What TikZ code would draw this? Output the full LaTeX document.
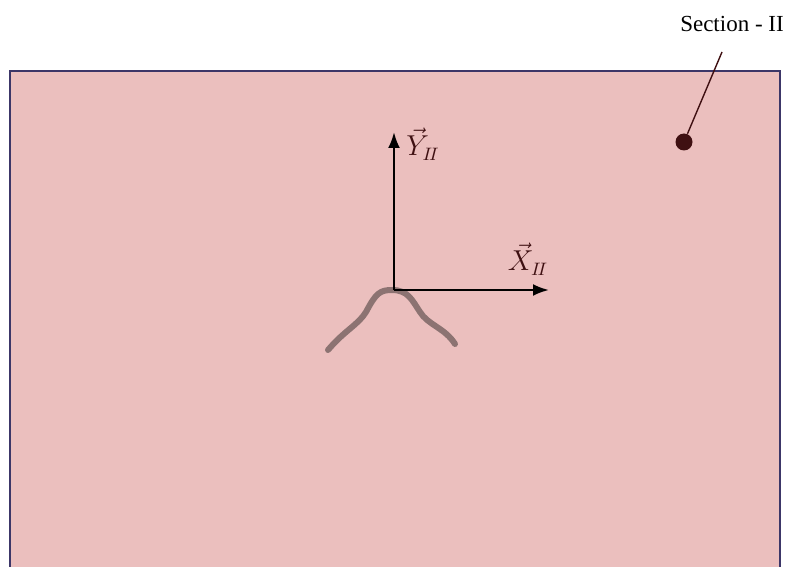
\documentclass[tikz,border=0pt]{standalone}
\usepackage{fontspec}
\setmainfont{Liberation Serif}
\usepackage{xcolor}
\usetikzlibrary{arrows.meta, positioning}
\definecolor{rosesec}{HTML}{EBBFBE}
\definecolor{bordsec}{HTML}{3C3668}
\definecolor{brunlbl}{HTML}{3F1012}
\definecolor{grisfil}{HTML}{8C7372}
\tikzset{
  section/.style={fill=rosesec, draw=bordsec, line width=1.4pt},
  axe/.style={-{Latex[length=8pt, width=6pt]}, line width=1.2pt, color=black},
  etiqaxe/.style={font=\fontsize{13.5}{16}\selectfont, text=brunlbl, inner sep=1pt},
  repere/.style={line width=0.7pt, color=brunlbl},
  fil/.style={line width=3pt, color=grisfil, line cap=round},
}
\begin{document}
\begin{tikzpicture}[x=0.5pt, y=-0.5pt]
  \useasboundingbox (0,0) rectangle (789,567);
  \clip (0,0) rectangle (789,567);

  % plan de coupe
  \draw[section] (10,71) rectangle (780,600);

  % trace de la fibre
  \draw[fil] (328,350) .. controls (345,330) and (358,325) .. (366,312)
    .. controls (376,293) and (380,290) .. (392,290)
    .. controls (408,290) and (412,300) .. (420,312)
    .. controls (428,325) and (445,328) .. (455,344);

  % repere local
  \coordinate (origine) at (394,290);
  \coordinate (xfin) at (549,290);
  \coordinate (yfin) at (394,132);
  \draw[axe] (origine) -- (xfin);
  \draw[axe] (origine) -- (yfin);
  \node[etiqaxe] (xlbl) at (528,259) {$\vec{X}_{I\!I}$};
  \node[etiqaxe] (ylbl) at (423,144) {$\vec{Y}_{I\!I}$};

  % repere de la section
  \node[circle, fill=brunlbl, inner sep=0pt, minimum size=8.5pt] (pt) at (684,142) {};
  \node[font=\fontsize{11.5}{14}\selectfont] (nomsec) at (732,24) {Section - II};
  \coordinate (haut) at (722,52);
  \draw[repere] (pt) -- (haut);
\end{tikzpicture}
\end{document}
